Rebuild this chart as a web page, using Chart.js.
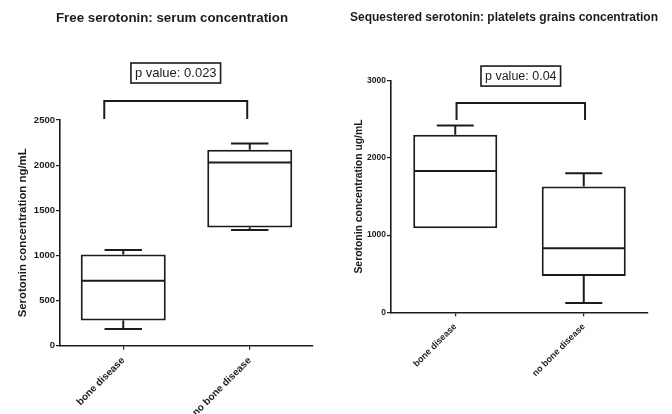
<!DOCTYPE html>
<html>
<head>
<meta charset="utf-8">
<script src="https://cdn.jsdelivr.net/npm/chart.js@4.4.1/dist/chart.umd.min.js"></script>
<style>
  html, body { margin: 0; padding: 0; background: #fff; }
  body { width: 672px; height: 414px; position: relative; overflow: hidden; }
  canvas { position: absolute; top: 0; }
</style>
</head>
<body>
<canvas id="serum" width="344" height="414" style="left:0px"></canvas>
<canvas id="platelet" width="336" height="414" style="left:336px"></canvas>
<script>
// Groups compared in both panels
const groups = ['bone disease', 'no bone disease'];

// Free serotonin, serum (ng/mL): five-number summaries per group
const serumMin    = [185, 1280];
const serumQ1     = [280, 1310];
const serumMedian = [720, 2030];
const serumQ3     = [1010, 2170];
const serumMax    = [1060, 2240];
const serumTicks  = [0, 500, 1000, 1500, 2000, 2500];
const serumP      = 'p value: 0.023';

// Sequestered serotonin, platelet grains (ug/mL)
const plateletMin    = [1090, 120];
const plateletQ1     = [1090, 470];
const plateletMedian = [1830, 830];
const plateletQ3     = [2300, 1630];
const plateletMax    = [2420, 1800];
const plateletTicks  = [0, 1000, 2000, 3000];
const plateletP      = 'p value: 0.04';

const INK = '#1c1c1c';
const FONT = "'Liberation Sans', Arial, Helvetica, sans-serif";

// Draws medians, whiskers, the comparison bracket and the p-value box
const boxWhiskers = {
  id: 'boxWhiskers',
  afterDatasetsDraw(chart, args, o) {
    const { ctx } = chart;
    const x = chart.scales.x, y = chart.scales.y;
    const meta = chart.getDatasetMeta(0);
    const line = (x1, y1, x2, y2) => {
      ctx.beginPath(); ctx.moveTo(x1, y1); ctx.lineTo(x2, y2); ctx.stroke();
    };
    ctx.save();
    ctx.strokeStyle = INK;
    ctx.lineWidth = 2;
    o.median.forEach((m, i) => {
      const bar = meta.data[i];
      const cx = bar.x, half = bar.width / 2, cap = bar.width * 0.22;
      const ym = y.getPixelForValue(m);
      line(cx - half + 1, ym, cx + half - 1, ym);
      const yq1 = y.getPixelForValue(o.q1[i]), yq3 = y.getPixelForValue(o.q3[i]);
      if (o.max[i] > o.q3[i]) {
        const yh = y.getPixelForValue(o.max[i]);
        line(cx, yq3, cx, yh);
        line(cx - cap, yh, cx + cap, yh);
      }
      if (o.min[i] < o.q1[i]) {
        const yl = y.getPixelForValue(o.min[i]);
        line(cx, yq1, cx, yl);
        line(cx - cap, yl, cx + cap, yl);
      }
    });
    // comparison bracket
    const b = o.bracket;
    const xl = x.getPixelForValue(b.from), xr = x.getPixelForValue(b.to);
    const yt = y.getPixelForValue(b.top), yf = y.getPixelForValue(b.foot);
    ctx.beginPath();
    ctx.moveTo(xl, yf); ctx.lineTo(xl, yt); ctx.lineTo(xr, yt); ctx.lineTo(xr, yf);
    ctx.stroke();
    // p-value label in a box
    ctx.font = `${o.pSize}px ${FONT}`;
    ctx.fillStyle = INK;
    ctx.textAlign = 'center';
    ctx.textBaseline = 'middle';
    const cxp = (xl + xr) / 2, cyp = y.getPixelForValue(b.label);
    const tw = ctx.measureText(o.pText).width;
    ctx.lineWidth = 1.6;
    ctx.strokeRect(cxp - tw / 2 - 4, cyp - 10, tw + 8, 20);
    ctx.fillText(o.pText, cxp, cyp + 0.5);
    ctx.restore();
  }
};

function makePanel(id, cfg) {
  new Chart(document.getElementById(id), {
    type: 'bar',
    data: {
      labels: groups,
      datasets: [{
        data: cfg.q1.map((v, i) => [v, cfg.q3[i]]),
        backgroundColor: '#ffffff',
        borderColor: INK,
        borderWidth: 2,
        borderSkipped: false,
        barPercentage: cfg.barPct,
        categoryPercentage: 1
      }]
    },
    options: {
      responsive: false,
      animation: false,
      devicePixelRatio: 1,
      layout: { padding: 0 },
      plugins: {
        legend: { display: false },
        tooltip: { enabled: false },
        title: {
          display: true,
          text: cfg.title,
          color: INK,
          font: { family: FONT, size: cfg.titleSize, weight: 'bold' },
          padding: { top: cfg.titleTop, bottom: cfg.titleGap }
        },
        boxWhiskers: {
          min: cfg.min, q1: cfg.q1, median: cfg.median, q3: cfg.q3, max: cfg.max,
          bracket: cfg.bracket, pText: cfg.pText, pSize: cfg.pSize
        }
      },
      scales: {
        x: {
          offset: true,
          grid: { display: true, offset: false, drawOnChartArea: false, drawTicks: true, tickLength: 4, color: INK, lineWidth: 1.2 },
          border: { display: true, color: INK, width: 1.6 },
          ticks: {
            color: INK, minRotation: 45, maxRotation: 45, padding: 5,
            font: { family: FONT, size: cfg.xFont, weight: 'bold' }
          },
          afterFit(s) { s.height = cfg.xHeight; }
        },
        y: {
          min: 0, max: cfg.yMax,
          grid: { display: true, drawOnChartArea: false, drawTicks: true, tickLength: 4, color: INK, lineWidth: 1.2 },
          border: { display: true, color: INK, width: 1.6 },
          ticks: {
            color: INK, padding: 1,
            font: { family: FONT, size: cfg.yFont, weight: 'bold' },
            callback: v => String(v)
          },
          afterBuildTicks(s) { s.ticks = cfg.ticks.map(v => ({ value: v })); },
          title: {
            display: true,
            text: cfg.yTitle,
            color: INK,
            font: { family: FONT, size: cfg.yTitleSize, weight: 'bold' },
            padding: { top: cfg.yTitlePad, bottom: 0 }
          },
          afterFit(s) { s.width = cfg.yWidth; }
        },
        // empty margin to the right of the plot
        margin: {
          position: 'right',
          display: true,
          grid: { display: false },
          border: { display: false },
          ticks: { display: false },
          afterFit(s) { s.width = cfg.rightGap; }
        }
      }
    },
    plugins: [boxWhiskers]
  });
}

makePanel('serum', {
  title: 'Free serotonin: serum concentration',
  yTitle: 'Serotonin concentration ng/mL',
  min: serumMin, q1: serumQ1, median: serumMedian, q3: serumQ3, max: serumMax,
  ticks: serumTicks, yMax: 2500, pText: serumP, pSize: 13,
  bracket: { from: -0.15, to: 0.98, top: 2710, foot: 2510, label: 3020 },
  barPct: 0.672, rightGap: 31, xHeight: 68.3, yWidth: 60,
  titleSize: 13.3, titleTop: 10, titleGap: 94,
  xFont: 10, yFont: 9.5, yTitleSize: 11.4, yTitlePad: 16.2
});

makePanel('platelet', {
  title: 'Sequestered serotonin: platelets grains concentration',
  yTitle: 'Serotonin concentration ug/mL',
  min: plateletMin, q1: plateletQ1, median: plateletMedian, q3: plateletQ3, max: plateletMax,
  ticks: plateletTicks, yMax: 3000, pText: plateletP, pSize: 12.5,
  bracket: { from: 0.01, to: 1.01, top: 2710, foot: 2490, label: 3060 },
  barPct: 0.654, rightGap: 24, xHeight: 101.7, yWidth: 55,
  titleSize: 12, titleTop: 10.8, titleGap: 55.5,
  xFont: 9, yFont: 8.5, yTitleSize: 10.4, yTitlePad: 16.8
});
</script>
</body>
</html>
